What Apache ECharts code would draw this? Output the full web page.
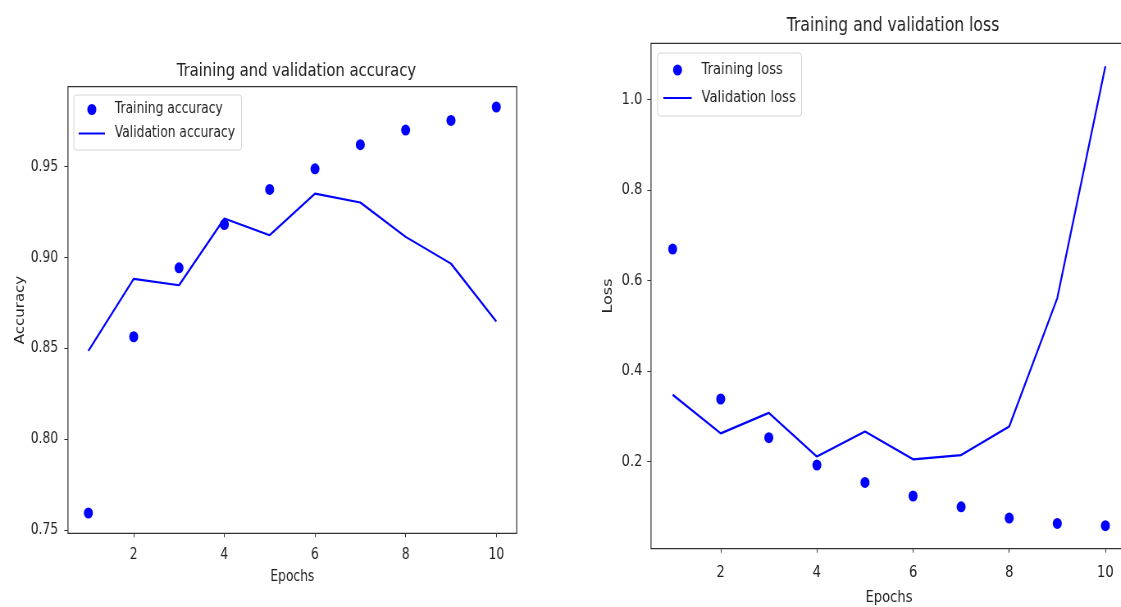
<!DOCTYPE html>
<html><head><meta charset="utf-8">
<script src="https://cdn.jsdelivr.net/npm/echarts@6/dist/echarts.min.js"></script>
<style>
html,body{margin:0;padding:0;overflow:hidden;background:#fff;width:1121px;height:607px;}
#wrap{width:1121px;height:607px;overflow:hidden;position:relative;background:#fff;}
#chart{width:1367px;height:607px;transform:scaleX(0.82);transform-origin:0 0;position:absolute;left:0;top:0;}
</style></head><body><div id="wrap"><div id="chart"></div></div>
<script>
const epochs = [1, 2, 3, 4, 5, 6, 7, 8, 9, 10];
const trainAcc = [0.7596, 0.8565, 0.8944, 0.9182, 0.9375, 0.9488, 0.9621, 0.9701, 0.9754, 0.9828];
const valAcc = [0.8487, 0.8883, 0.8848, 0.9215, 0.9123, 0.9352, 0.9303, 0.9114, 0.8967, 0.8649];
const trainLoss = [0.6696, 0.3383, 0.2529, 0.1923, 0.1539, 0.1240, 0.1001, 0.0753, 0.0634, 0.0583];
const valLoss = [0.3477, 0.2623, 0.3076, 0.2111, 0.2666, 0.2051, 0.2145, 0.2777, 0.5612, 1.0734];
const epochTicks = [2, 4, 6, 8, 10];
const accTicks = [0.75, 0.80, 0.85, 0.90, 0.95];
const lossTicks = [0.2, 0.4, 0.6, 0.8, 1.0];

const FONT = 'DejaVu Sans';
const BLUE = '#0000ff';
const TXT = '#222';

function limits(a, b) {
  const all = a.concat(b);
  const lo = Math.min(...all), hi = Math.max(...all);
  const m = (hi - lo) * 0.05;
  return [lo - m, hi + m];
}
const xPad = (epochs[epochs.length - 1] - epochs[0]) * 0.05;
const accLim = limits(trainAcc, valAcc);
const lossLim = limits(trainLoss, valLoss);
const pts = (ys) => epochs.map((e, i) => [e, ys[i]]);

function xAxis(gi, fs, margin, gap) {
  return {
    type: 'value', gridIndex: gi, min: epochs[0] - xPad, max: epochs[epochs.length - 1] + xPad,
    name: 'Epochs', nameLocation: 'middle', nameGap: gap,
    nameTextStyle: { fontFamily: FONT, fontSize: fs, color: TXT },
    axisLine: { show: false }, splitLine: { show: false },
    axisTick: { show: true, inside: false, length: 4, customValues: epochTicks, lineStyle: { color: '#333', width: 1 } },
    axisLabel: { customValues: epochTicks, margin: margin, fontFamily: FONT, fontSize: fs, color: TXT,
      formatter: v => String(Math.round(v)) }
  };
}
function yAxis(gi, name, lim, ticks, digits, fs, margin, gap) {
  return {
    type: 'value', gridIndex: gi, min: lim[0], max: lim[1],
    name: name, nameLocation: 'middle', nameGap: gap, nameRotate: 90,
    nameTextStyle: { fontFamily: FONT, fontSize: fs, color: TXT },
    axisLine: { show: false }, splitLine: { show: false },
    axisTick: { show: true, inside: false, length: 4.5, customValues: ticks, lineStyle: { color: '#333', width: 1 } },
    axisLabel: { customValues: ticks, margin: margin, fontFamily: FONT, fontSize: fs, color: TXT,
      formatter: v => v.toFixed(digits) }
  };
}
function legend(names, left, top, iw, gap, fs, pad) {
  return {
    data: [
      { name: names[0] },
      { name: names[1], itemStyle: { color: 'transparent', borderColor: 'transparent', borderWidth: 0 } }
    ],
    orient: 'vertical', left: left, top: top,
    itemWidth: iw, itemHeight: 11, itemGap: gap, padding: pad,
    backgroundColor: '#fff', borderColor: '#d6d6d6', borderWidth: 1, borderRadius: 3,
    selectedMode: false,
    textStyle: { fontFamily: FONT, fontSize: fs, color: TXT, padding: [0, 0, 0, 7] }
  };
}

const chart = echarts.init(document.getElementById('chart'));
chart.setOption({
  animation: false,
  backgroundColor: '#fff',
  title: [
    { text: 'Training and validation accuracy', left: 356.5, top: 57, textAlign: 'center',
      textStyle: { fontFamily: FONT, fontSize: 18, fontWeight: 'normal', color: TXT } },
    { text: 'Training and validation loss', left: 1084, top: 12, textAlign: 'center',
      textStyle: { fontFamily: FONT, fontSize: 19, fontWeight: 'normal', color: TXT } }
  ],
  legend: [
    legend(['Training accuracy', 'Validation accuracy'], 90, 95, 32, 9, 15, [7, 8, 9, 5]),
    legend(['Training loss', 'Validation loss'], 802, 53, 34.5, 12, 16, [9, 7, 10, 6])
  ],
  grid: [
    { left: 82.9, top: 86.7, width: 547.2, height: 446.6, outerBoundsMode: 'none', containLabel: false,
      show: true, borderColor: '#333', borderWidth: 1.2, backgroundColor: 'transparent' },
    { left: 793.9, top: 43.3, width: 580.5, height: 505.4, outerBoundsMode: 'none', containLabel: false,
      show: true, borderColor: '#333', borderWidth: 1.2, backgroundColor: 'transparent' }
  ],
  xAxis: [ xAxis(0, 15, 14.5, 36), xAxis(1, 16, 16, 41) ],
  yAxis: [
    yAxis(0, 'Accuracy', accLim, accTicks, 2, 15, 12, 50),
    yAxis(1, 'Loss', lossLim, lossTicks, 1, 16, 10.5, 44)
  ],
  series: [
    { name: 'Training accuracy', type: 'scatter', xAxisIndex: 0, yAxisIndex: 0, data: pts(trainAcc),
      symbol: 'circle', symbolSize: 11, itemStyle: { color: BLUE, opacity: 1 } },
    { name: 'Validation accuracy', type: 'line', xAxisIndex: 0, yAxisIndex: 0, data: pts(valAcc),
      symbol: 'none', lineStyle: { color: BLUE, width: 2.2 }, itemStyle: { color: BLUE } },
    { name: 'Training loss', type: 'scatter', xAxisIndex: 1, yAxisIndex: 1, data: pts(trainLoss),
      symbol: 'circle', symbolSize: 11, itemStyle: { color: BLUE, opacity: 1 } },
    { name: 'Validation loss', type: 'line', xAxisIndex: 1, yAxisIndex: 1, data: pts(valLoss),
      symbol: 'none', lineStyle: { color: BLUE, width: 2.2 }, itemStyle: { color: BLUE } }
  ]
});
</script></body></html>
